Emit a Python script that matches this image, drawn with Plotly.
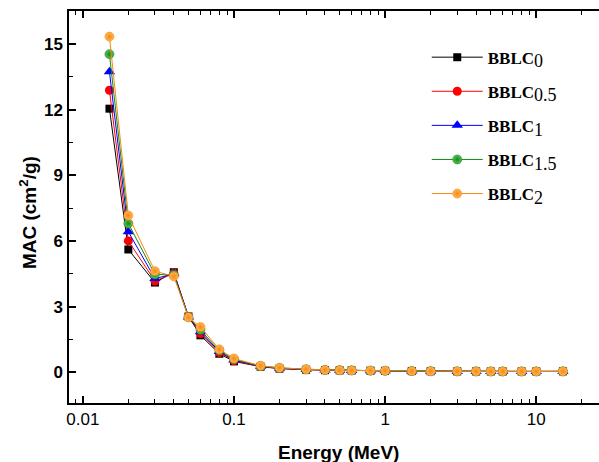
import plotly.graph_objects as go
import math

energy = [0.015, 0.02, 0.03, 0.04, 0.05, 0.06, 0.08, 0.1, 0.15, 0.2, 0.3, 0.4, 0.5,
          0.6, 0.8, 1, 1.5, 2, 3, 4, 5, 6, 8, 10, 15]

bblc0 = [12.04, 5.61, 4.10, 4.57, 2.55, 1.69, 0.85, 0.50, 0.26, 0.17, 0.12, 0.10, 0.090,
         0.085, 0.075, 0.068, 0.056, 0.050, 0.043, 0.041, 0.040, 0.040, 0.040, 0.041, 0.043]
bblc05 = [12.88, 6.00, 4.17, 4.53, 2.54, 1.77, 0.90, 0.53, 0.27, 0.18, 0.125, 0.103, 0.092,
          0.086, 0.076, 0.069, 0.057, 0.050, 0.044, 0.041, 0.040, 0.040, 0.040, 0.041, 0.043]
bblc1 = [13.73, 6.42, 4.28, 4.50, 2.53, 1.85, 0.95, 0.56, 0.28, 0.19, 0.130, 0.106, 0.094,
         0.087, 0.077, 0.070, 0.057, 0.051, 0.044, 0.042, 0.041, 0.040, 0.041, 0.042, 0.044]
bblc15 = [14.53, 6.80, 4.47, 4.45, 2.52, 1.94, 1.00, 0.60, 0.29, 0.20, 0.135, 0.109, 0.096,
          0.088, 0.078, 0.070, 0.058, 0.051, 0.045, 0.042, 0.041, 0.041, 0.041, 0.042, 0.044]
bblc2 = [15.33, 7.16, 4.62, 4.38, 2.51, 2.07, 1.05, 0.63, 0.30, 0.21, 0.140, 0.112, 0.098,
         0.089, 0.079, 0.071, 0.058, 0.052, 0.045, 0.042, 0.041, 0.041, 0.041, 0.042, 0.044]

names = ["0", "0.5", "1", "1.5", "2"]
series = [bblc0, bblc05, bblc1, bblc15, bblc2]
colors = ["#000000", "#FF0000", "#0000FF", "#128A12", "#F58A10"]
symbols = ["square", "circle", "triangle-up", "circle", "circle"]
sizes = [8, 9, 10, 9, 9]
light = [None, None, None, "#5CC05C", "#FFB55A"]

fig = go.Figure()
for i, (nm, ys) in enumerate(zip(names, series)):
    marker = dict(symbol=symbols[i], size=sizes[i], color=colors[i], line=dict(width=0))
    if light[i]:
        marker = dict(symbol=symbols[i], size=sizes[i], color=light[i],
                      gradient=dict(type="radial", color=colors[i]),
                      line=dict(width=0.6, color=colors[i]))
    fig.add_trace(go.Scatter(
        x=energy, y=ys, mode="lines+markers",
        name="<b>BBLC</b><sub><span style='font-size:18px'>" + nm + "</span></sub>",
        legendgroup="g" + str(i),
        line=dict(color=colors[i], width=1),
        marker=marker,
    ))

fig.update_layout(
    width=599, height=462,
    margin=dict(l=69, r=0, t=11, b=59),
    paper_bgcolor="white", plot_bgcolor="white",
    font=dict(family="Liberation Sans, Arial", color="black"),
    showlegend=True,
    legend=dict(x=0.675, y=0.927, xanchor="left", yanchor="top",
                font=dict(family="Liberation Serif, Times New Roman", size=17, color="black"),
                bgcolor="rgba(0,0,0,0)", traceorder="grouped", tracegroupgap=9,
                itemwidth=51),
    xaxis=dict(type="log", range=[math.log10(0.0081), math.log10(26)],
               tickvals=[0.01, 0.1, 1, 10], ticktext=["0.01", "0.1", "1", "10"],
               ticks="inside", ticklen=7, tickwidth=1.5, tickcolor="black",
               showline=True, linewidth=1.5, linecolor="black", mirror="ticks",
               showgrid=False, zeroline=False, automargin=False,
               tickfont=dict(size=17, family="Liberation Sans, Arial"),
               ticklabelstandoff=0,
               minor=dict(dtick="D1", ticks="inside", ticklen=4, tickwidth=1.2,
                          tickcolor="black", showgrid=False)),
    yaxis=dict(range=[-1.4, 16.5], dtick=3, tick0=0,
               ticks="inside", ticklen=7, tickwidth=1.5, tickcolor="black",
               showline=True, linewidth=1.5, linecolor="black", mirror=False,
               showgrid=False, zeroline=False, automargin=False,
               tickfont=dict(size=17, family="Liberation Sans, Arial"),
               ticklabelstandoff=1,
               minor=dict(dtick=1.5, ticks="inside", ticklen=4, tickwidth=1.2,
                          tickcolor="black", showgrid=False)),
    annotations=[
        dict(text="<b>Energy (MeV)</b>", xref="paper", yref="paper", x=0.509, y=-0.125,
             xanchor="center", yanchor="middle", showarrow=False, font=dict(size=19)),
        dict(text="<b>MAC (cm<sup>2</sup>/g)</b>", xref="paper", yref="paper", x=-0.0774, y=0.487,
             xanchor="center", yanchor="middle", showarrow=False, textangle=-90,
             font=dict(size=19)),
    ],
)
fig.update_xaxes(tickprefix="<b>", ticksuffix="</b>")
fig.update_yaxes(tickprefix="<b>", ticksuffix="</b>")

fig.write_html("out.html", config={"displayModeBar": False},
               post_script="document.body.style.margin='0';")
